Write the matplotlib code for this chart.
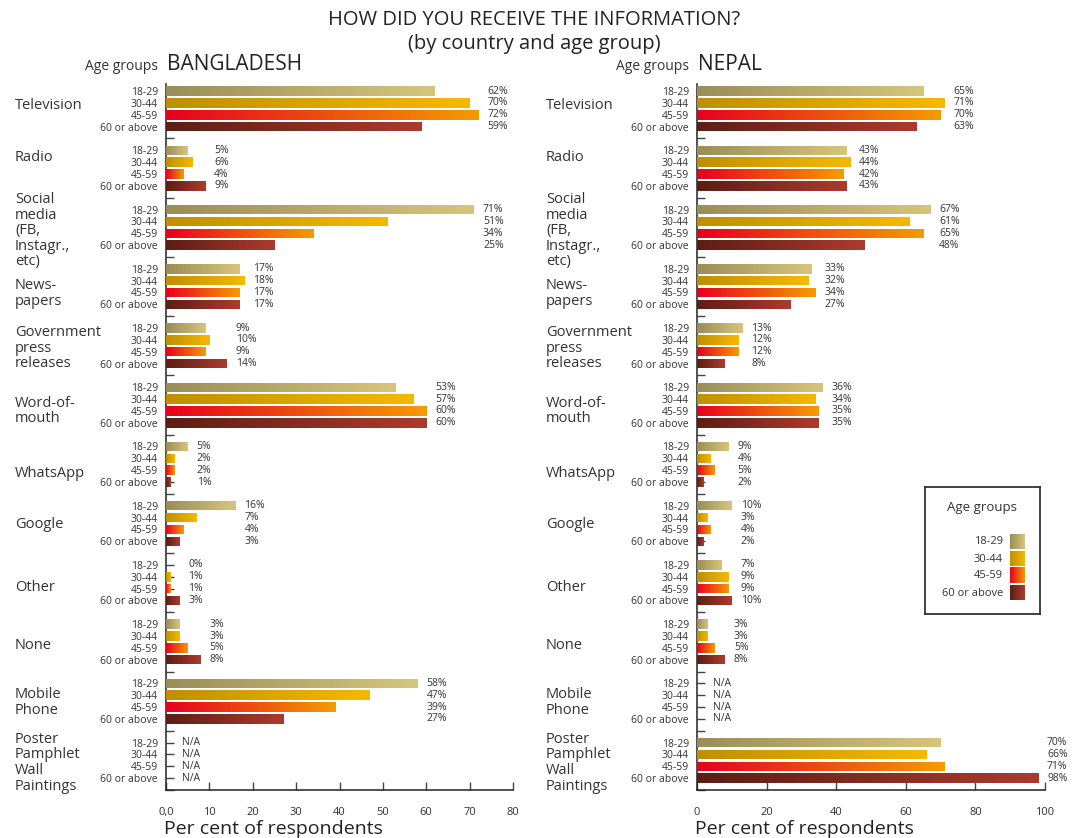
import numpy as np
import matplotlib.pyplot as plt
from matplotlib.colors import LinearSegmentedColormap
from matplotlib.transforms import blended_transform_factory

plt.rcParams['font.family'] = ['Open Sans', 'DejaVu Sans']

# media categories (rows of each panel) and age groups (bars in each row)
categories = ['Television', 'Radio', 'Social\nmedia\n(FB,\nInstagr.,\netc)', 'News-\npapers',
              'Government\npress\nreleases', 'Word-of-\nmouth', 'WhatsApp', 'Google', 'Other',
              'None', 'Mobile\nPhone', 'Poster\nPamphlet\nWall\nPaintings']
age_groups = ['18-29', '30-44', '45-59', '60 or above']

# per cent of respondents, one row per category (None = N/A)
bangladesh = [[62, 70, 72, 59], [5, 6, 4, 9], [71, 51, 34, 25], [17, 18, 17, 17],
              [9, 10, 9, 14], [53, 57, 60, 60], [5, 2, 2, 1], [16, 7, 4, 3],
              [0, 1, 1, 3], [3, 3, 5, 8], [58, 47, 39, 27], None]
nepal = [[65, 71, 70, 63], [43, 44, 42, 43], [67, 61, 65, 48], [33, 32, 34, 27],
         [13, 12, 12, 8], [36, 34, 35, 35], [9, 4, 5, 2], [10, 3, 4, 2],
         [7, 9, 9, 10], [3, 3, 5, 8], None, [70, 66, 71, 98]]

bd_ticks = [0, 10, 20, 30, 40, 50, 60, 70, 80]
bd_ticklabels = ['0,0', '10', '20', '30', '40', '50', '60', '70', '80']
np_ticks = [0, 20, 40, 60, 80, 100]
np_ticklabels = ['0', '20', '40', '60', '80', '100']

# vertical placement of each category name, in bar slots from the group's first bar
cat_offsets = [1.2, 0.6, 1.8, 2.1, 1.7, 2.0, 2.3, 1.6, 1.9, 1.8, 1.6, 1.7]

# dark -> light gradient for each age group
grad_colors = [('#9a8d58', '#d8c57c'),
               ('#bf8f00', '#f6b900'),
               ('#e8001e', '#f59b00'),
               ('#5c1e14', '#ac3b2e')]
cmaps = [LinearSegmentedColormap.from_list('g%d' % i, c) for i, c in enumerate(grad_colors)]
grad = np.linspace(0, 1, 256).reshape(1, -1)

txt = '#333333'
W, H = 1079, 838
fig = plt.figure(figsize=(W / 100, H / 100), dpi=100)

slots = 5  # 4 bars + 1 gap per category


def draw_panel(rect, rows, xmax, ticks, ticklabels, cat_x, country):
    ax = fig.add_axes(rect)
    for g, row in enumerate(rows):
        ys = g * slots + np.arange(4)
        if row is None:
            for y in ys:
                ax.annotate('N/A', (0, y), xytext=(16, 0), textcoords='offset pixels',
                            va='center', ha='left', fontsize=7.5, color=txt)
            continue
        right = max(row)
        for j, (v, y) in enumerate(zip(row, ys)):
            bar = ax.barh(y, v, height=0.8, color='none', linewidth=0, zorder=3)[0]
            if v > 0:
                im = ax.imshow(grad, cmap=cmaps[j], aspect='auto', zorder=3,
                               extent=(0, v, y + 0.4, y - 0.4), interpolation='bilinear')
                im.set_clip_path(bar)
            ax.annotate('%d%%' % v, (right, y), xytext=(9, 0), textcoords='offset pixels',
                        va='center', ha='left', fontsize=7.5, color=txt)

    ax.set_xlim(0, xmax)
    ax.set_ylim(58.5, -0.6)
    positions = np.arange(len(categories) * slots)
    ax.set_yticks(positions)
    ax.set_yticklabels([age_groups[p % slots] if p % slots < 4 else '' for p in positions])
    ax.set_xticks(ticks)
    ax.set_xticklabels(ticklabels)
    ax.tick_params(axis='y', direction='in', length=6, width=1, color='#444444',
                   pad=6, labelsize=7.5, labelcolor=txt)
    ax.tick_params(axis='x', direction='in', length=6, width=1, color='#444444',
                   pad=12, labelsize=8, labelcolor=txt)
    for s in ['top', 'right']:
        ax.spines[s].set_visible(False)
    for s in ['left', 'bottom']:
        ax.spines[s].set_linewidth(1.1)
        ax.spines[s].set_color('#222222')

    # category names down the left side
    tr = blended_transform_factory(fig.transFigure, ax.transData)
    for g, name in enumerate(categories):
        ax.text(cat_x, g * slots + cat_offsets[g], name, transform=tr, ha='left', va='center',
                fontsize=10.5, color=txt, linespacing=1.05)

    left_px = rect[0] * W
    fig.text((left_px - 8) / W, 1 - 67 / H, 'Age groups', ha='right', va='center',
             fontsize=10, color=txt)
    fig.text((left_px + 1) / W, 1 - 65 / H, country, ha='left', va='center',
             fontsize=15, color='#222222')
    fig.text((left_px - 2) / W, 0.5 / H, 'Per cent of respondents', ha='left', va='bottom',
             fontsize=14, color='#222222')
    return ax


draw_panel([166 / W, 1 - 790 / H, 347 / W, 706 / H], bangladesh, 80, bd_ticks, bd_ticklabels,
           15 / W, 'BANGLADESH')
draw_panel([697 / W, 1 - 790 / H, 348 / W, 706 / H], nepal, 100, np_ticks, np_ticklabels,
           546 / W, 'NEPAL')

fig.text(534 / W, 1 - 20 / H, 'HOW DID YOU RECEIVE THE INFORMATION?', ha='center', va='center',
         fontsize=14.5, color='#222222')
fig.text(534 / W, 1 - 44 / H, '(by country and age group)', ha='center', va='center',
         fontsize=14.5, color='#222222')

# legend box with gradient swatches
lg = fig.add_axes([925 / W, 1 - 614 / H, 115 / W, 127 / H])
lg.set_xticks([])
lg.set_yticks([])
for s in lg.spines.values():
    s.set_linewidth(1.3)
    s.set_color('#333333')
lg.text(57, 20, 'Age groups', ha='center', va='center', fontsize=9.5, color=txt)
for j, name in enumerate(age_groups):
    yc = 55 + j * 17
    lg.imshow(grad, cmap=cmaps[j], aspect='auto', extent=(85, 100, yc + 7.5, yc - 7.5))
    lg.text(78, yc, name, ha='right', va='center', fontsize=8, color=txt)
lg.set_xlim(0, 115)
lg.set_ylim(127, 0)

fig.savefig('out.png', dpi=100)
